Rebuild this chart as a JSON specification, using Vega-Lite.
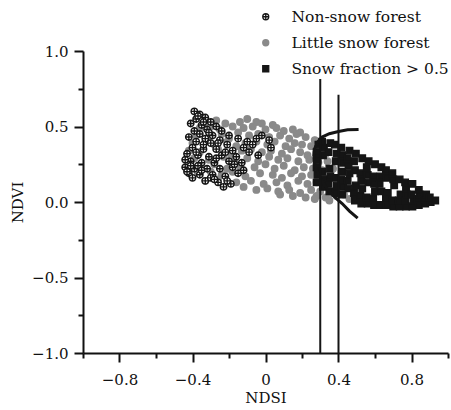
{
  "$schema": "https://vega.github.io/schema/vega-lite/v6.json",
  "width": 365,
  "height": 302,
  "autosize": "none",
  "padding": {"left": 83, "top": 51, "right": 3, "bottom": 57},
  "background": "white",
  "config": {
    "view": {"stroke": null},
    "axis": {
      "domainColor": "#111111", "domainWidth": 2, "tickColor": "#111111", "tickWidth": 2,
      "labelFont": "DejaVu Serif", "labelFontSize": 15, "labelColor": "#111111",
      "titleFont": "DejaVu Serif", "titleFontSize": 15, "titleColor": "#111111", "titleFontWeight": "normal",
      "grid": false
    }
  },
  "resolve": {"axis": {"x": "independent", "y": "independent"}},
  "layer": [
    {
      "data": {"values": [
        {"k":"L","x":-0.33,"y":0.53},{"k":"L","x":-0.27,"y":0.54},{"k":"L","x":-0.22,"y":0.52},{"k":"L","x":-0.14,"y":0.53},{"k":"L","x":-0.10,"y":0.55},{"k":"L","x":-0.05,"y":0.53},{"k":"L","x":-0.02,"y":0.52},{"k":"L","x":0.04,"y":0.51},
        {"k":"L","x":-0.36,"y":0.49},{"k":"L","x":-0.30,"y":0.50},{"k":"L","x":-0.25,"y":0.48},{"k":"L","x":-0.18,"y":0.50},{"k":"L","x":-0.12,"y":0.49},{"k":"L","x":-0.07,"y":0.50},{"k":"L","x":0.00,"y":0.48},{"k":"L","x":0.06,"y":0.49},{"k":"L","x":0.10,"y":0.47},{"k":"L","x":0.15,"y":0.48},{"k":"L","x":0.19,"y":0.46},
        {"k":"L","x":-0.38,"y":0.44},{"k":"L","x":-0.31,"y":0.43},{"k":"L","x":-0.24,"y":0.45},{"k":"L","x":-0.20,"y":0.42},{"k":"L","x":-0.15,"y":0.46},{"k":"L","x":-0.09,"y":0.44},{"k":"L","x":-0.04,"y":0.45},{"k":"L","x":0.02,"y":0.43},{"k":"L","x":0.08,"y":0.44},{"k":"L","x":0.13,"y":0.42},{"k":"L","x":0.17,"y":0.45},{"k":"L","x":0.22,"y":0.43},{"k":"L","x":0.27,"y":0.41},
        {"k":"L","x":-0.40,"y":0.39},{"k":"L","x":-0.33,"y":0.40},{"k":"L","x":-0.28,"y":0.38},{"k":"L","x":-0.21,"y":0.40},{"k":"L","x":-0.16,"y":0.37},{"k":"L","x":-0.11,"y":0.39},{"k":"L","x":-0.05,"y":0.40},{"k":"L","x":0.01,"y":0.38},{"k":"L","x":0.05,"y":0.40},{"k":"L","x":0.11,"y":0.37},{"k":"L","x":0.16,"y":0.39},{"k":"L","x":0.20,"y":0.38},{"k":"L","x":0.25,"y":0.37},{"k":"L","x":0.30,"y":0.36},
        {"k":"L","x":-0.42,"y":0.34},{"k":"L","x":-0.36,"y":0.33},{"k":"L","x":-0.26,"y":0.35},{"k":"L","x":-0.19,"y":0.32},{"k":"L","x":-0.13,"y":0.34},{"k":"L","x":-0.08,"y":0.35},{"k":"L","x":-0.02,"y":0.33},{"k":"L","x":0.03,"y":0.34},{"k":"L","x":0.09,"y":0.32},{"k":"L","x":0.14,"y":0.35},{"k":"L","x":0.19,"y":0.33},{"k":"L","x":0.23,"y":0.31},{"k":"L","x":0.28,"y":0.33},{"k":"L","x":0.33,"y":0.32},
        {"k":"L","x":-0.39,"y":0.29},{"k":"L","x":-0.31,"y":0.28},{"k":"L","x":-0.23,"y":0.30},{"k":"L","x":-0.17,"y":0.28},{"k":"L","x":-0.10,"y":0.29},{"k":"L","x":-0.04,"y":0.27},{"k":"L","x":0.02,"y":0.30},{"k":"L","x":0.07,"y":0.28},{"k":"L","x":0.12,"y":0.29},{"k":"L","x":0.18,"y":0.27},{"k":"L","x":0.24,"y":0.28},{"k":"L","x":0.29,"y":0.26},{"k":"L","x":0.34,"y":0.27},
        {"k":"L","x":-0.41,"y":0.24},{"k":"L","x":-0.35,"y":0.23},{"k":"L","x":-0.28,"y":0.25},{"k":"L","x":-0.21,"y":0.22},{"k":"L","x":-0.14,"y":0.24},{"k":"L","x":-0.06,"y":0.23},{"k":"L","x":0.00,"y":0.25},{"k":"L","x":0.05,"y":0.22},{"k":"L","x":0.10,"y":0.24},{"k":"L","x":0.16,"y":0.21},{"k":"L","x":0.21,"y":0.23},{"k":"L","x":0.26,"y":0.22},{"k":"L","x":0.31,"y":0.21},{"k":"L","x":0.37,"y":0.22},
        {"k":"L","x":-0.37,"y":0.19},{"k":"L","x":-0.30,"y":0.20},{"k":"L","x":-0.24,"y":0.18},{"k":"L","x":-0.18,"y":0.20},{"k":"L","x":-0.11,"y":0.17},{"k":"L","x":-0.03,"y":0.19},{"k":"L","x":0.04,"y":0.18},{"k":"L","x":0.09,"y":0.16},{"k":"L","x":0.14,"y":0.19},{"k":"L","x":0.20,"y":0.17},{"k":"L","x":0.25,"y":0.18},{"k":"L","x":0.32,"y":0.16},
        {"k":"L","x":-0.33,"y":0.14},{"k":"L","x":-0.26,"y":0.15},{"k":"L","x":-0.16,"y":0.13},{"k":"L","x":-0.08,"y":0.14},{"k":"L","x":-0.01,"y":0.12},{"k":"L","x":0.06,"y":0.13},{"k":"L","x":0.12,"y":0.11},{"k":"L","x":0.18,"y":0.14},{"k":"L","x":0.23,"y":0.12},{"k":"L","x":0.28,"y":0.13},{"k":"L","x":0.34,"y":0.11},
        {"k":"L","x":-0.12,"y":0.10},{"k":"L","x":-0.05,"y":0.08},{"k":"L","x":0.01,"y":0.09},{"k":"L","x":0.07,"y":0.07},{"k":"L","x":0.13,"y":0.08},{"k":"L","x":0.19,"y":0.06},{"k":"L","x":0.25,"y":0.08},{"k":"L","x":0.30,"y":0.07},{"k":"L","x":0.36,"y":0.06},
        {"k":"L","x":0.08,"y":0.05},{"k":"L","x":0.15,"y":0.04},{"k":"L","x":0.22,"y":0.03},{"k":"L","x":0.28,"y":0.04},{"k":"L","x":0.33,"y":0.03},{"k":"L","x":0.39,"y":0.04},{"k":"L","x":0.43,"y":0.05},{"k":"L","x":0.27,"y":0.02},{"k":"L","x":0.35,"y":0.01},{"k":"L","x":0.46,"y":0.02},

        {"k":"N","x":-0.39,"y":0.60},{"k":"N","x":-0.36,"y":0.58},{"k":"N","x":-0.33,"y":0.56},{"k":"N","x":-0.38,"y":0.55},{"k":"N","x":-0.30,"y":0.53},{"k":"N","x":-0.41,"y":0.52},{"k":"N","x":-0.35,"y":0.51},{"k":"N","x":-0.27,"y":0.50},{"k":"N","x":-0.32,"y":0.48},{"k":"N","x":-0.39,"y":0.47},
        {"k":"N","x":-0.24,"y":0.47},{"k":"N","x":-0.36,"y":0.45},{"k":"N","x":-0.29,"y":0.44},{"k":"N","x":-0.20,"y":0.44},{"k":"N","x":-0.42,"y":0.43},{"k":"N","x":-0.33,"y":0.42},{"k":"N","x":-0.25,"y":0.41},{"k":"N","x":-0.15,"y":0.42},{"k":"N","x":-0.38,"y":0.40},{"k":"N","x":-0.30,"y":0.39},
        {"k":"N","x":-0.21,"y":0.38},{"k":"N","x":-0.10,"y":0.40},{"k":"N","x":-0.05,"y":0.42},{"k":"N","x":-0.02,"y":0.44},{"k":"N","x":0.02,"y":0.41},{"k":"N","x":-0.40,"y":0.36},{"k":"N","x":-0.34,"y":0.35},{"k":"N","x":-0.27,"y":0.35},{"k":"N","x":-0.18,"y":0.34},{"k":"N","x":-0.12,"y":0.36},
        {"k":"N","x":-0.07,"y":0.38},{"k":"N","x":-0.43,"y":0.32},{"k":"N","x":-0.37,"y":0.31},{"k":"N","x":-0.31,"y":0.30},{"k":"N","x":-0.24,"y":0.31},{"k":"N","x":-0.16,"y":0.30},{"k":"N","x":-0.04,"y":0.31},{"k":"N","x":-0.41,"y":0.27},{"k":"N","x":-0.35,"y":0.26},{"k":"N","x":-0.28,"y":0.26},
        {"k":"N","x":-0.20,"y":0.27},{"k":"N","x":-0.13,"y":0.26},{"k":"N","x":-0.44,"y":0.23},{"k":"N","x":-0.39,"y":0.22},{"k":"N","x":-0.32,"y":0.22},{"k":"N","x":-0.25,"y":0.22},{"k":"N","x":-0.18,"y":0.23},{"k":"N","x":-0.42,"y":0.19},{"k":"N","x":-0.36,"y":0.18},{"k":"N","x":-0.29,"y":0.18},
        {"k":"N","x":-0.22,"y":0.17},{"k":"N","x":-0.15,"y":0.19},{"k":"N","x":-0.40,"y":0.16},{"k":"N","x":-0.33,"y":0.14},{"k":"N","x":-0.26,"y":0.13},{"k":"N","x":-0.19,"y":0.12},{"k":"N","x":-0.23,"y":0.10},{"k":"N","x":-0.30,"y":0.16},{"k":"N","x":-0.37,"y":0.24},{"k":"N","x":-0.27,"y":0.29},
        {"k":"N","x":-0.34,"y":0.38},{"k":"N","x":-0.22,"y":0.33},{"k":"N","x":-0.09,"y":0.33},{"k":"N","x":0.03,"y":0.36},{"k":"N","x":-0.44,"y":0.28},{"k":"N","x":-0.31,"y":0.46},{"k":"N","x":-0.26,"y":0.39},{"k":"N","x":-0.17,"y":0.25},{"k":"N","x":-0.38,"y":0.33},{"k":"N","x":-0.12,"y":0.21},
        {"k":"N","x":-0.43,"y":0.20},{"k":"N","x":-0.41,"y":0.24},{"k":"N","x":-0.35,"y":0.21},{"k":"N","x":-0.28,"y":0.15},{"k":"N","x":-0.21,"y":0.14},{"k":"N","x":-0.37,"y":0.57},{"k":"N","x":-0.34,"y":0.53},

        {"k":"S","x":0.28,"y":0.13},{"k":"S","x":0.285,"y":0.18},{"k":"S","x":0.28,"y":0.23},{"k":"S","x":0.285,"y":0.28},{"k":"S","x":0.28,"y":0.33},{"k":"S","x":0.29,"y":0.38},
        {"k":"S","x":0.315,"y":0.10},{"k":"S","x":0.32,"y":0.15},{"k":"S","x":0.31,"y":0.20},{"k":"S","x":0.315,"y":0.31},{"k":"S","x":0.32,"y":0.36},{"k":"S","x":0.31,"y":0.40},
        {"k":"S","x":0.35,"y":0.07},{"k":"S","x":0.345,"y":0.12},{"k":"S","x":0.355,"y":0.17},{"k":"S","x":0.35,"y":0.22},{"k":"S","x":0.345,"y":0.33},{"k":"S","x":0.355,"y":0.39},
        {"k":"S","x":0.385,"y":0.06},{"k":"S","x":0.39,"y":0.11},{"k":"S","x":0.38,"y":0.16},{"k":"S","x":0.385,"y":0.27},{"k":"S","x":0.39,"y":0.32},{"k":"S","x":0.38,"y":0.38},
        {"k":"S","x":0.42,"y":0.05},{"k":"S","x":0.425,"y":0.10},{"k":"S","x":0.415,"y":0.15},{"k":"S","x":0.42,"y":0.20},{"k":"S","x":0.425,"y":0.26},{"k":"S","x":0.42,"y":0.31},{"k":"S","x":0.415,"y":0.36},
        {"k":"S","x":0.455,"y":0.09},{"k":"S","x":0.45,"y":0.14},{"k":"S","x":0.46,"y":0.19},{"k":"S","x":0.455,"y":0.24},{"k":"S","x":0.45,"y":0.29},{"k":"S","x":0.46,"y":0.34},
        {"k":"S","x":0.49,"y":0.01},{"k":"S","x":0.485,"y":0.06},{"k":"S","x":0.495,"y":0.11},{"k":"S","x":0.49,"y":0.21},{"k":"S","x":0.485,"y":0.27},{"k":"S","x":0.495,"y":0.32},
        {"k":"S","x":0.525,"y":-0.01},{"k":"S","x":0.52,"y":0.04},{"k":"S","x":0.53,"y":0.09},{"k":"S","x":0.525,"y":0.14},{"k":"S","x":0.52,"y":0.19},{"k":"S","x":0.53,"y":0.29},
        {"k":"S","x":0.56,"y":-0.01},{"k":"S","x":0.555,"y":0.03},{"k":"S","x":0.565,"y":0.13},{"k":"S","x":0.56,"y":0.18},{"k":"S","x":0.555,"y":0.23},{"k":"S","x":0.565,"y":0.27},
        {"k":"S","x":0.595,"y":-0.02},{"k":"S","x":0.59,"y":0.02},{"k":"S","x":0.60,"y":0.07},{"k":"S","x":0.595,"y":0.12},{"k":"S","x":0.59,"y":0.17},{"k":"S","x":0.60,"y":0.25},
        {"k":"S","x":0.63,"y":-0.02},{"k":"S","x":0.635,"y":0.07},{"k":"S","x":0.625,"y":0.12},{"k":"S","x":0.63,"y":0.17},{"k":"S","x":0.635,"y":0.23},
        {"k":"S","x":0.665,"y":-0.02},{"k":"S","x":0.66,"y":0.02},{"k":"S","x":0.67,"y":0.06},{"k":"S","x":0.665,"y":0.16},{"k":"S","x":0.66,"y":0.21},
        {"k":"S","x":0.70,"y":-0.03},{"k":"S","x":0.695,"y":0.01},{"k":"S","x":0.705,"y":0.11},{"k":"S","x":0.70,"y":0.15},{"k":"S","x":0.695,"y":0.19},
        {"k":"S","x":0.735,"y":-0.03},{"k":"S","x":0.73,"y":0.01},{"k":"S","x":0.74,"y":0.05},{"k":"S","x":0.735,"y":0.15},
        {"k":"S","x":0.77,"y":-0.03},{"k":"S","x":0.765,"y":0.01},{"k":"S","x":0.775,"y":0.05},{"k":"S","x":0.77,"y":0.09},{"k":"S","x":0.765,"y":0.13},
        {"k":"S","x":0.805,"y":-0.03},{"k":"S","x":0.81,"y":0.01},{"k":"S","x":0.80,"y":0.05},{"k":"S","x":0.805,"y":0.12},
        {"k":"S","x":0.84,"y":-0.02},{"k":"S","x":0.835,"y":0.02},{"k":"S","x":0.845,"y":0.05},{"k":"S","x":0.84,"y":0.08},
        {"k":"S","x":0.875,"y":-0.01},{"k":"S","x":0.87,"y":0.02},{"k":"S","x":0.88,"y":0.05},
        {"k":"S","x":0.905,"y":0.00},{"k":"S","x":0.90,"y":0.03},{"k":"S","x":0.93,"y":0.01}
      ]},
      "mark": {"type": "point", "filled": false, "opacity": 1},
      "encoding": {
        "x": {"field": "x", "type": "quantitative", "scale": {"domain": [-1, 1], "nice": false, "zero": false},
          "axis": {"orient": "bottom", "title": "NDSI", "values": [-0.8, -0.4, 0, 0.4, 0.8], "tickSize": 9, "labelPadding": 10, "titlePadding": 3,
            "labelExpr": "datum.value == 0 ? '0' : replace(format(datum.value, '.1f'), '-', '−')"}},
        "y": {"field": "y", "type": "quantitative", "scale": {"domain": [-1, 1], "nice": false, "zero": false},
          "axis": {"orient": "left", "title": "NDVI", "values": [-1, -0.5, 0, 0.5, 1], "tickSize": 9, "labelPadding": 6, "titlePadding": 6,
            "labelExpr": "replace(format(datum.value, '.1f'), '-', '−')"}},
        "shape": {"field": "k", "type": "nominal",
          "scale": {"domain": ["N", "L", "S"], "range": ["M-1,0A1,1,0,1,0,1,0A1,1,0,1,0,-1,0ZM-1,0L1,0M0,-1L0,1", "circle", "square"]},
          "legend": {"title": null, "orient": "none", "legendX": 175, "legendY": -42, "padding": 0, "rowPadding": 9, "symbolSize": 36, "labelOffset": 18, "labelLimit": 400,
            "labelFont": "DejaVu Serif", "labelFontSize": 15.5, "labelColor": "#111111", "symbolStrokeWidth": 1.3,
            "labelExpr": "datum.label == 'N' ? 'Non-snow forest' : datum.label == 'L' ? 'Little snow forest' : 'Snow fraction > 0.5'"}},
        "fill": {"field": "k", "type": "nominal",
          "scale": {"domain": ["N", "L", "S"], "range": ["#ffffff", "#8a8a8a", "#151515"]},
          "legend": {"title": null, "orient": "none", "legendX": 175, "legendY": -42, "padding": 0, "rowPadding": 9, "symbolSize": 36, "labelOffset": 18, "labelLimit": 400,
            "labelFont": "DejaVu Serif", "labelFontSize": 15.5, "labelColor": "#111111", "symbolStrokeWidth": 1.3,
            "labelExpr": "datum.label == 'N' ? 'Non-snow forest' : datum.label == 'L' ? 'Little snow forest' : 'Snow fraction > 0.5'"}},
        "stroke": {"field": "k", "type": "nominal",
          "scale": {"domain": ["N", "L", "S"], "range": ["#151515", "#8a8a8a", "#151515"]},
          "legend": {"title": null, "orient": "none", "legendX": 175, "legendY": -42, "padding": 0, "rowPadding": 9, "symbolSize": 36, "labelOffset": 18, "labelLimit": 400,
            "labelFont": "DejaVu Serif", "labelFontSize": 15.5, "labelColor": "#111111", "symbolStrokeWidth": 1.3,
            "labelExpr": "datum.label == 'N' ? 'Non-snow forest' : datum.label == 'L' ? 'Little snow forest' : 'Snow fraction > 0.5'"}},
        "size": {"value": 42},
        "strokeWidth": {"value": 1.4}
      }
    },
    {
      "data": {"values": [
        {"o":1,"x":0.51,"y":0.48},{"o":2,"x":0.45,"y":0.478},{"o":3,"x":0.40,"y":0.467},{"o":4,"x":0.35,"y":0.452},{"o":5,"x":0.31,"y":0.43},
        {"o":6,"x":0.285,"y":0.397},{"o":7,"x":0.27,"y":0.355},{"o":8,"x":0.265,"y":0.31},{"o":9,"x":0.267,"y":0.265},{"o":10,"x":0.277,"y":0.22},
        {"o":11,"x":0.295,"y":0.17},{"o":12,"x":0.322,"y":0.115},{"o":13,"x":0.352,"y":0.065},{"o":14,"x":0.39,"y":0.02},{"o":15,"x":0.42,"y":-0.01},
        {"o":16,"x":0.46,"y":-0.06},{"o":17,"x":0.505,"y":-0.107}
      ]},
      "mark": {"type": "line", "color": "#151515", "strokeWidth": 3, "interpolate": "linear"},
      "encoding": {
        "x": {"field": "x", "type": "quantitative", "axis": null},
        "y": {"field": "y", "type": "quantitative", "axis": null},
        "order": {"field": "o", "type": "quantitative"}
      }
    },
    {
      "data": {"values": [{"x": 0.3, "top": 0.815, "bottom": -1}, {"x": 0.4, "top": 0.71, "bottom": -1}]},
      "mark": {"type": "rule", "color": "#151515", "strokeWidth": 2},
      "encoding": {
        "x": {"field": "x", "type": "quantitative", "axis": {"orient": "bottom", "values": [-1, -0.6, -0.2, 0.2, 0.6, 1], "tickSize": 5, "labels": false, "domain": false, "title": null}},
        "y": {"field": "top", "type": "quantitative", "axis": {"orient": "left", "values": [-0.75, -0.25, 0.25, 0.75], "tickSize": 5, "labels": false, "domain": false, "title": null}},
        "y2": {"field": "bottom"}
      }
    }
  ]
}
